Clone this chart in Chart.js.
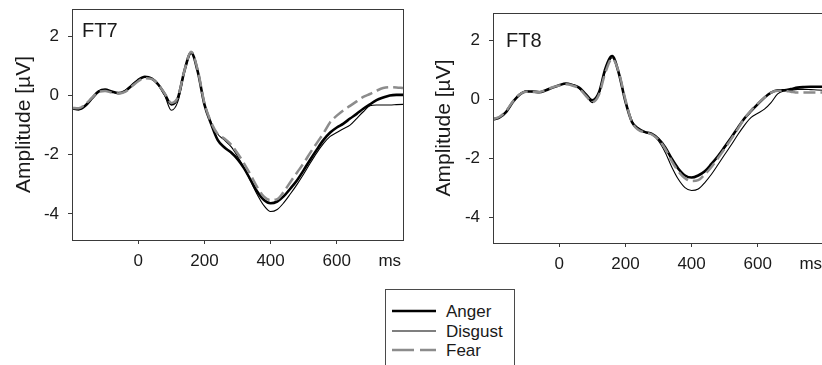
<!DOCTYPE html>
<html>
<head>
<meta charset="utf-8">
<script src="https://cdn.jsdelivr.net/npm/chart.js@4.4.1/dist/chart.umd.min.js"></script>
<style>
  html, body { margin:0; padding:0; background:#fff; overflow:hidden; }
  #wrap { position:relative; width:822px; height:365px; overflow:hidden; background:#fff;
          font-family:"Liberation Sans", Arial, sans-serif; color:#1a1a1a; }
  canvas { position:absolute; top:0; }
  .lab { position:absolute; font-size:20px; line-height:20px; white-space:nowrap; }
  #legend { position:absolute; left:385px; top:289px; width:130px; height:100px;
            box-sizing:border-box; border:1px solid #4a4a4a; background:#fff; }
  #legend svg { position:absolute; left:0; top:0; }
  #legend span { position:absolute; left:60px; font-size:17px; line-height:17px; white-space:nowrap; }
</style>
</head>
<body>
<div id="wrap">
  <canvas id="c1" width="410" height="280" style="left:0px"></canvas>
  <canvas id="c2" width="420" height="283" style="left:410px"></canvas>
  <div class="lab" id="lab1" style="left:82px;top:20px"></div>
  <div class="lab" id="lab2" style="left:506px;top:30px"></div>
  <div id="legend"></div>
</div>
<script>
// ---- data ----
const timeMs = [-200,-180,-160,-140,-120,-100,-80,-60,-40,-20,0,20,40,60,80,100,120,140,160,180,200,220,240,260,280,300,320,340,360,380,400,420,440,460,480,500,520,540,560,580,600,620,640,660,680,700,720,740,760,780,800];

const seriesNames = ['Anger', 'Disgust', 'Fear'];
const panelNames = ['FT7', 'FT8'];

const ft7Anger = [-0.43,-0.47,-0.35,-0.10,0.13,0.20,0.13,0.08,0.15,0.33,0.52,0.63,0.58,0.38,0.05,-0.30,-0.08,0.85,1.45,0.80,-0.30,-0.95,-1.50,-1.75,-1.92,-2.15,-2.46,-2.86,-3.25,-3.53,-3.64,-3.58,-3.40,-3.14,-2.86,-2.52,-2.16,-1.82,-1.50,-1.25,-1.08,-0.95,-0.78,-0.62,-0.45,-0.30,-0.16,-0.07,0.00,0.02,0.02];
const ft7Disgust = [-0.45,-0.47,-0.33,-0.08,0.15,0.20,0.12,0.08,0.16,0.35,0.53,0.62,0.57,0.36,0.00,-0.50,-0.20,0.80,1.42,0.80,-0.30,-0.90,-1.30,-1.50,-1.72,-2.05,-2.45,-2.90,-3.35,-3.72,-3.92,-3.85,-3.62,-3.32,-3.00,-2.65,-2.28,-1.93,-1.62,-1.38,-1.25,-1.12,-1.00,-0.78,-0.55,-0.35,-0.32,-0.32,-0.32,-0.31,-0.30];
const ft7Fear = [-0.42,-0.43,-0.30,-0.08,0.12,0.15,0.10,0.07,0.12,0.30,0.48,0.58,0.56,0.38,0.07,-0.25,-0.05,0.85,1.48,0.85,-0.25,-0.90,-1.30,-1.45,-1.65,-1.95,-2.30,-2.69,-3.10,-3.42,-3.53,-3.50,-3.25,-2.92,-2.60,-2.28,-1.93,-1.60,-1.27,-0.90,-0.68,-0.50,-0.35,-0.20,-0.05,0.05,0.16,0.25,0.28,0.27,0.25];

const ft8Anger = [-0.69,-0.62,-0.43,-0.10,0.15,0.26,0.26,0.23,0.30,0.39,0.47,0.53,0.48,0.39,0.17,-0.04,0.22,1.05,1.46,0.88,-0.08,-0.78,-1.01,-1.12,-1.18,-1.35,-1.63,-2.02,-2.36,-2.59,-2.66,-2.59,-2.45,-2.20,-1.93,-1.62,-1.30,-0.97,-0.65,-0.40,-0.17,0.05,0.22,0.30,0.30,0.34,0.39,0.41,0.42,0.42,0.42];
const ft8Disgust = [-0.70,-0.62,-0.42,-0.09,0.16,0.27,0.25,0.23,0.30,0.40,0.47,0.52,0.47,0.37,0.13,-0.12,0.18,0.98,1.40,0.90,-0.05,-0.75,-1.05,-1.13,-1.20,-1.42,-1.80,-2.30,-2.72,-3.00,-3.10,-3.05,-2.83,-2.55,-2.22,-1.88,-1.55,-1.20,-0.88,-0.62,-0.48,-0.34,-0.12,0.18,0.28,0.30,0.33,0.33,0.32,0.31,0.30];
const ft8Fear = [-0.68,-0.60,-0.40,-0.08,0.16,0.25,0.24,0.24,0.31,0.40,0.46,0.50,0.46,0.36,0.12,-0.10,0.15,0.92,1.37,0.92,-0.02,-0.78,-1.05,-1.13,-1.20,-1.38,-1.68,-2.10,-2.45,-2.68,-2.78,-2.75,-2.55,-2.30,-2.00,-1.68,-1.35,-1.00,-0.65,-0.38,-0.15,0.05,0.22,0.28,0.28,0.25,0.22,0.22,0.22,0.22,0.22];

const xTickValues = [0, 200, 400, 600];
const xUnitLabel = 'ms';
const xUnitPos = 760;
const yTickValues = [-4, -2, 0, 2];
const yTitle = 'Amplitude [µV]';
const xMin = -200, xMax = 800, yMin = -4.88, yMax = 2.92;

// ---- styles ----
const styleFor = {
  Anger:   { color: '#000000', width: 2.6, dash: [] },
  Disgust: { color: '#000000', width: 1.1, dash: [] },
  Fear:    { color: '#8c8c8c', width: 2.5, dash: [12, 5] }
};
const FONT = '"Liberation Sans", Arial, sans-serif';
const AXC = '#3a3a3a';

const framePlugin = {
  id: 'frame',
  afterDatasetsDraw(chart) {
    const a = chart.chartArea, ctx = chart.ctx;
    ctx.save();
    ctx.strokeStyle = AXC;
    ctx.lineWidth = 1;
    ctx.strokeRect(Math.round(a.left) + 0.5, Math.round(a.top) + 0.5,
                   Math.round(a.right - a.left), Math.round(a.bottom - a.top));
    ctx.restore();
  }
};

function noPad(s) { s.paddingTop = 0; s.paddingBottom = 0; s.paddingLeft = 0; s.paddingRight = 0; }

function makeChart(canvasId, seriesArrays, cfg) {
  const datasets = seriesNames.map((name, k) => ({
    label: name,
    data: timeMs.map((t, i) => ({ x: t, y: seriesArrays[k][i] })),
    borderColor: styleFor[name].color,
    borderWidth: styleFor[name].width,
    borderDash: styleFor[name].dash,
    pointRadius: 0,
    fill: false,
    cubicInterpolationMode: 'monotone',
    order: name === 'Fear' ? 0 : (name === 'Anger' ? 1 : 2)
  }));
  return new Chart(document.getElementById(canvasId), {
    type: 'line',
    data: { datasets },
    options: {
      responsive: false,
      animation: false,
      devicePixelRatio: 1,
      layout: { padding: cfg.padding },
      plugins: { legend: { display: false }, tooltip: { enabled: false } },
      scales: {
        x: {
          type: 'linear', min: xMin, max: xMax,
          afterBuildTicks: s => { s.ticks = xTickValues.concat([xUnitPos]).map(v => ({ value: v })); },
          afterFit: s => { s.height = 40; noPad(s); },
          ticks: {
            autoSkip: false, maxRotation: 0, padding: 7, color: '#1a1a1a',
            font: { family: FONT, size: 17 },
            callback: v => (v === xUnitPos ? xUnitLabel : String(v))
          },
          grid: {
            drawOnChartArea: false, drawTicks: true, tickLength: 4,
            tickColor: c => (c.tick && c.tick.value === xUnitPos ? 'rgba(0,0,0,0)' : AXC)
          },
          border: { display: true, color: AXC, width: 1 }
        },
        y: {
          type: 'linear', min: yMin, max: yMax,
          afterBuildTicks: s => { s.ticks = yTickValues.map(v => ({ value: v })); },
          afterFit: s => { s.width = cfg.yWidth; noPad(s); },
          ticks: {
            padding: 9, color: '#1a1a1a',
            font: { family: FONT, size: 17 },
            callback: v => String(v)
          },
          grid: { drawOnChartArea: false, drawTicks: true, tickLength: 4, tickColor: AXC },
          border: { display: true, color: AXC, width: 1 },
          title: {
            display: true, text: yTitle, color: '#1a1a1a',
            font: { family: FONT, size: 21 },
            padding: { top: cfg.titlePad, bottom: 0 }
          }
        }
      }
    },
    plugins: [framePlugin]
  });
}

makeChart('c1', [ft7Anger, ft7Disgust, ft7Fear], { padding: { left: 0, top: 9, right: 7, bottom: 0 }, yWidth: 72, titlePad: 11.4 });
makeChart('c2', [ft8Anger, ft8Disgust, ft8Fear], { padding: { left: 0, top: 13, right: 6, bottom: 0 }, yWidth: 83, titlePad: 21.4 });

document.getElementById('lab1').textContent = panelNames[0];
document.getElementById('lab2').textContent = panelNames[1];

// ---- legend (HTML) ----
(function () {
  const lg = document.getElementById('legend');
  const ns = 'http://www.w3.org/2000/svg';
  const svg = document.createElementNS(ns, 'svg');
  svg.setAttribute('width', '130'); svg.setAttribute('height', '100');
  const rows = [21, 41, 60];
  seriesNames.forEach((name, k) => {
    const st = styleFor[name];
    const ln = document.createElementNS(ns, 'line');
    ln.setAttribute('x1', '6'); ln.setAttribute('x2', '50');
    ln.setAttribute('y1', rows[k]); ln.setAttribute('y2', rows[k]);
    ln.setAttribute('stroke', st.color);
    ln.setAttribute('stroke-width', st.width);
    if (st.dash.length) ln.setAttribute('stroke-dasharray', '22 6');
    svg.appendChild(ln);
    const sp = document.createElement('span');
    sp.textContent = name;
    sp.style.top = (rows[k] - 8.5) + 'px';
    lg.appendChild(sp);
  });
  lg.appendChild(svg);
})();
</script>
</body>
</html>
